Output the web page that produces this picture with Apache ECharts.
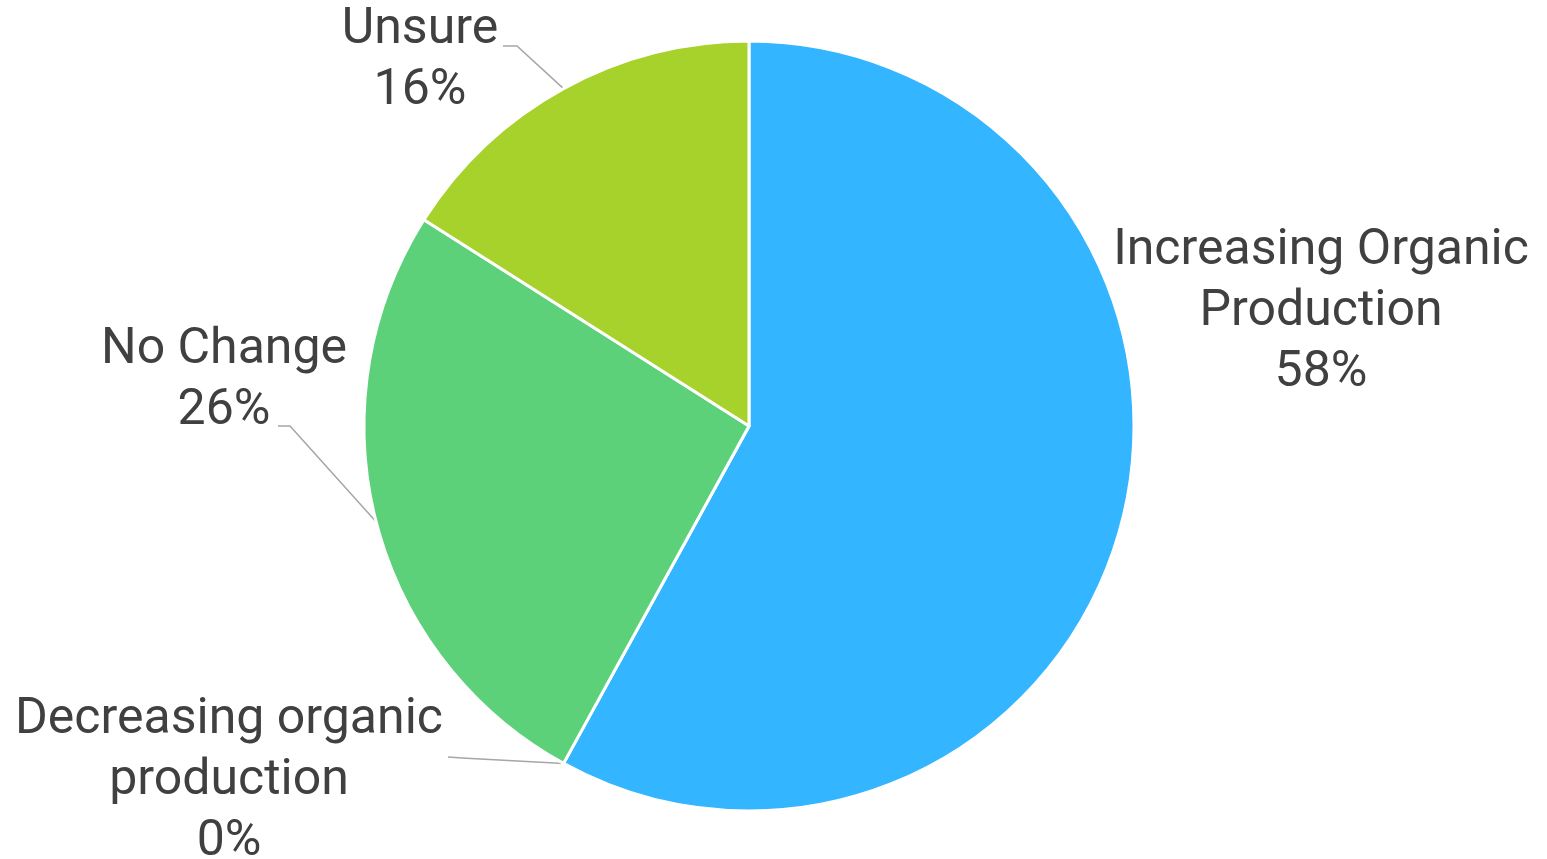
<!DOCTYPE html>
<html>
<head>
<meta charset="utf-8">
<title>Organic production plans</title>
<script src="https://cdn.jsdelivr.net/npm/echarts@6/dist/echarts.min.js"></script>
<style>
  html, body { margin: 0; padding: 0; background: #fff; }
  #chart { width: 1547px; height: 859px; }
</style>
</head>
<body>
<div id="chart"></div>
<script>
// Survey answers, in clockwise order from 12 o'clock
const categories = [
  'Increasing Organic\nProduction',
  'Decreasing organic\nproduction',
  'No Change',
  'Unsure'
];
const shares = [58, 0, 26, 16];
const sliceColors = ['#33B5FF', '#ED7D31', '#5DD07A', '#A6D22B'];

// Label block centres and leader-line elbows (pixels)
const labelCenters = [[1321, 312], [229, 781], [224, 381], [420, 61]];
const leaderEnds = [null, [[462, 758], [448, 757]], [[290, 426], [278, 426]], [[517, 46], [503, 46]]];

const chart = echarts.init(document.getElementById('chart'), null, { renderer: 'canvas' });

chart.setOption({
  animation: false,
  backgroundColor: '#ffffff',
  series: [{
    type: 'pie',
    center: [749, 426],
    radius: 385,
    startAngle: 90,
    clockwise: true,
    avoidLabelOverlap: false,
    itemStyle: { borderColor: '#ffffff', borderWidth: 3 },
    label: {
      show: true,
      position: 'outside',
      formatter: p => p.name + '\n' + p.value + '%',
      fontFamily: 'Roboto',
      fontSize: 50,
      lineHeight: 61,
      color: '#404040',
      align: 'center'
    },
    labelLine: {
      show: true,
      length: 20,
      length2: 20,
      lineStyle: { color: '#A6A6A6', width: 1.5 }
    },
    labelLayout: params => {
      const i = params.dataIndex;
      const c = labelCenters[i];
      const out = { x: c[0], y: c[1], align: 'center', verticalAlign: 'middle' };
      if (leaderEnds[i] && params.labelLinePoints) {
        const start = params.labelLinePoints[0];
        out.labelLinePoints = [start, leaderEnds[i][0], leaderEnds[i][1]];
      }
      return out;
    },
    data: categories.map((name, i) => ({
      name: name,
      value: shares[i],
      itemStyle: { color: sliceColors[i] },
      labelLine: { show: leaderEnds[i] !== null }
    }))
  }]
});
</script>
</body>
</html>
